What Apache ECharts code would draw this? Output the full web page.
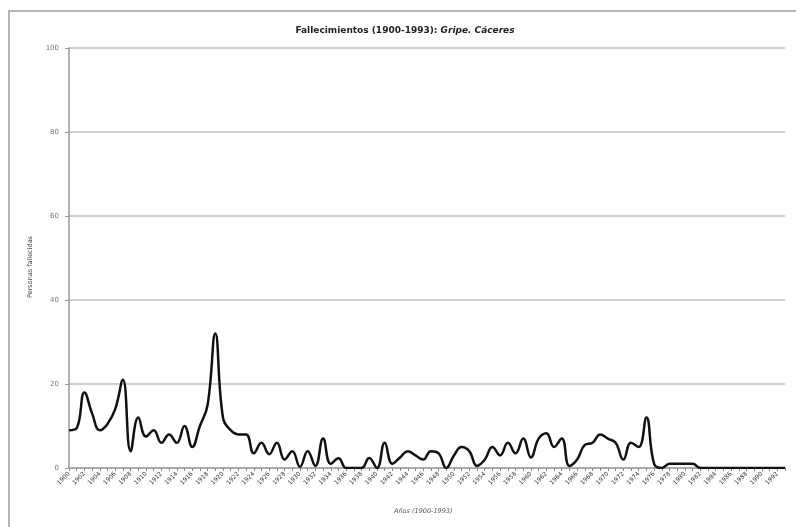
<!DOCTYPE html>
<html>
<head>
<meta charset="utf-8">
<script src="https://cdn.jsdelivr.net/npm/echarts@6/dist/echarts.min.js"></script>
<style>html,body{margin:0;padding:0;background:#fff}#c{width:796px;height:527px}</style>
</head>
<body>
<div id="c"></div>
<script>
const years = [];
for (let y = 1900; y <= 1993; y++) years.push(String(y));
const deaths = [
  9, 9.5, 18, 13, 9, 10.5, 14, 21, 4, 12,
  7.5, 9, 6, 8, 6, 10, 5, 10, 15, 32,
  12, 9, 8, 8, 3.5, 6, 3.3, 6, 2, 4,
  0.3, 4, 0.5, 7, 1, 2.3, 0, 0, 0, 2.4,
  0, 6, 1, 2.5, 4, 3, 2, 4, 3.5, 0,
  3, 5, 4, 0.5, 2, 5, 3, 6, 3.5, 7,
  2.5, 7, 8.3, 5, 7, 0.5, 2, 5.5, 6, 8,
  7, 6, 2, 6, 5, 12, 1, 0, 1, 1,
  1, 1, 0, 0, 0, 0, 0, 0, 0, 0,
  0, 0, 0, 0
];
const yTicks = [0, 20, 40, 60, 80, 100];
const titleMain = 'Fallecimientos (1900-1993): ';
const titleItalic = 'Gripe. Cáceres';
const yTitle = 'Personas fallecidas';
const xTitle = 'Años (1900-1993)';

const chart = echarts.init(document.getElementById('c'));
chart.setOption({
  animation: false,
  backgroundColor: '#fff',
  textStyle: { fontFamily: 'DejaVu Sans' },
  title: {
    text: '{a|' + titleMain + '}{b|' + titleItalic + '}',
    left: 400, top: 21, textAlign: 'center',
    textStyle: {
      rich: {
        a: { fontSize: 9, fontWeight: 'bold', color: '#222', fontFamily: 'DejaVu Sans' },
        b: { fontSize: 9, fontWeight: 'bold', fontStyle: 'italic', color: '#222', fontFamily: 'DejaVu Sans' }
      }
    }
  },
  graphic: [
    { type: 'rect', shape: { x: 9, y: 11, width: 800, height: 530 },
      style: { fill: 'none', stroke: '#b4b4b4', lineWidth: 2 }, silent: true },
    { type: 'text', left: 27, top: 236, rotation: Math.PI / 2,
      style: { text: yTitle, fontSize: 6.5, fill: '#444', fontFamily: 'DejaVu Sans' } },
    { type: 'text', left: 394, top: 508,
      style: { text: xTitle, fontSize: 6.5, fontStyle: 'italic', fill: '#555', fontFamily: 'DejaVu Sans' } }
  ],
  grid: { left: 69, right: 11, top: 48, bottom: 59, containLabel: false },
  xAxis: {
    type: 'category', data: years, boundaryGap: false,
    axisLine: { lineStyle: { color: '#a0a0a0', width: 1.5 } },
    axisTick: { show: true, interval: 0, length: 3, lineStyle: { color: '#888' } },
    axisLabel: { interval: 1, rotate: 45, fontSize: 6, color: '#333', margin: 5 },
    splitLine: { show: false }
  },
  yAxis: {
    type: 'value', min: 0, max: 100, interval: 20,
    axisLine: { show: true, lineStyle: { color: '#999', width: 1.5 } },
    axisTick: { show: true, length: 4, lineStyle: { color: '#999' } },
    axisLabel: { fontSize: 7, color: '#777', margin: 10,
      formatter: v => yTicks.includes(v) ? String(v) : '' },
    splitLine: { show: true, lineStyle: { color: '#d0d0d0', width: 2 } }
  },
  series: [{
    type: 'line', data: deaths, smooth: 0.45, showSymbol: false,
    lineStyle: { color: '#111', width: 2.5 }
  }]
});
</script>
</body>
</html>
